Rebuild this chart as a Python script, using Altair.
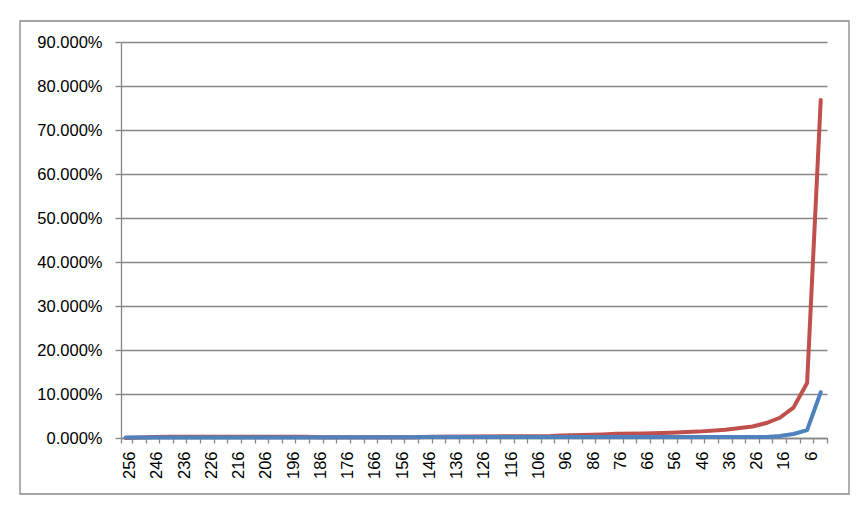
import altair as alt
import pandas as pd

# Series values (percent)
red_cats = [256, 246, 240, 190, 185, 150, 144, 100, 96, 81, 76, 66, 56, 46, 36, 26, 21, 16, 11, 6, 1]
red_pct = [0.0, 0.2, 0.3, 0.3, 0.15, 0.15, 0.3, 0.45, 0.55, 0.8, 0.95, 1.05, 1.2, 1.45, 1.9, 2.6, 3.4, 4.6, 6.9, 12.5, 76.8]

blue_cats = [256, 150, 146, 21, 16, 11, 6, 1]
blue_pct = [0.1, 0.15, 0.2, 0.25, 0.45, 0.9, 1.8, 10.4]

x_labels = list(range(256, 0, -10))          # 256, 246, ..., 6
y_ticks = [i / 10 for i in range(10)]        # 0% .. 90%

red_df = pd.DataFrame({"cat": red_cats, "value": [v / 100 for v in red_pct]})
blue_df = pd.DataFrame({"cat": blue_cats, "value": [v / 100 for v in blue_pct]})

X_MIN, X_MAX = -1.3, 257.7
tick_vals = [X_MIN] + [round(3.7 + 5 * k, 2) for k in range(51)] + [X_MAX]
axis_values = sorted(set(x_labels + tick_vals), reverse=True)

GRAY = "#868686"
FONT = "Liberation Sans"

x_enc = alt.X(
    "cat:Q",
    scale=alt.Scale(domain=[X_MIN, X_MAX], reverse=True, nice=False, zero=False),
    axis=alt.Axis(
        values=axis_values,
        title=None,
        grid=False,
        labelAngle=270,
        labelExpr="datum.value % 1 == 0 ? datum.label : ''",
        labelOverlap=False,
        labelFlush=False,
        tickSize=5,
        tickWidth=1.3,
        tickColor={"condition": {"test": "datum.value % 1 == 0", "value": "transparent"}, "value": GRAY},
        domainColor=GRAY,
        domainWidth=1.3,
        labelPadding=8,
        labelOffset=4,
        labelFontSize=16.5,
        labelFont=FONT,
        labelColor="black",
    ),
)

y_enc = alt.Y(
    "value:Q",
    scale=alt.Scale(domain=[0, 0.9], nice=False),
    axis=alt.Axis(
        values=y_ticks,
        format=".3%",
        title=None,
        grid=True,
        gridColor=GRAY,
        gridWidth=1.3,
        gridOpacity=1,
        tickSize=6,
        tickWidth=1.3,
        tickColor=GRAY,
        domainColor=GRAY,
        domainWidth=1.3,
        labelPadding=13,
        labelFontSize=16.5,
        labelFont=FONT,
        labelColor="black",
    ),
)

frame = alt.Chart(alt.Data(values=[{}])).mark_rect(
    fill="white", fillOpacity=0, stroke=GRAY, strokeWidth=1.3
).encode(
    x=alt.value(-101), x2=alt.value(728), y=alt.value(-21), y2=alt.value(452)
)

red_line = alt.Chart(red_df).mark_line(
    color="#C0504D", strokeWidth=4, strokeJoin="round", strokeCap="round"
).encode(x=x_enc, y=y_enc)

blue_line = alt.Chart(blue_df).mark_line(
    color="#4F81BD", strokeWidth=4, strokeJoin="round", strokeCap="round"
).encode(x=x_enc, y=y_enc)

chart = alt.layer(red_line, blue_line, frame).properties(
    width=706,
    height=396,
    padding={"left": 11, "top": 12, "right": 0, "bottom": 0},
    background="white",
).configure_view(strokeWidth=0)

chart.save("out.html", embed_options={"renderer": "svg", "actions": False})
